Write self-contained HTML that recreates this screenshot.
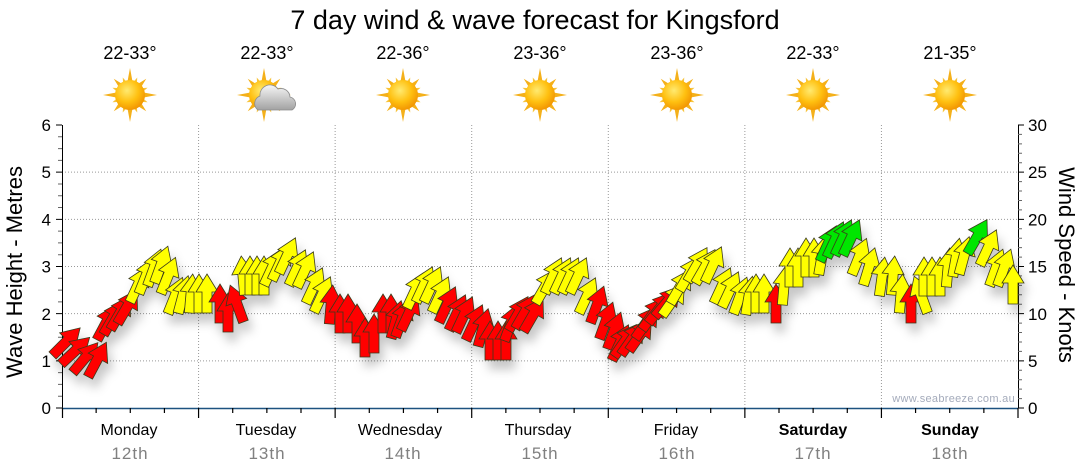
<!DOCTYPE html>
<html><head><meta charset="utf-8"><style>
html,body{margin:0;padding:0;background:#fff;}
svg{display:block;font-family:"Liberation Sans",sans-serif;}
.r{fill:#ff0000}.y{fill:#ffff00}.g{fill:#00e600}
</style></head><body>
<svg width="1080" height="475" viewBox="0 0 1080 475" xmlns="http://www.w3.org/2000/svg">
<defs>
<polygon id="a" points="0,-20 11,-2 5,-2 5,19 -5,19 -5,-2 -11,-2" stroke="#3a3a1a" stroke-width="0.8" stroke-linejoin="miter"/>
<radialGradient id="sg" cx="40%" cy="35%" r="70%"><stop offset="0" stop-color="#ffea70"/><stop offset="0.55" stop-color="#ffc010"/><stop offset="1" stop-color="#f09000"/></radialGradient>
<linearGradient id="cg" x1="0" y1="0" x2="0" y2="1"><stop offset="0" stop-color="#f6f6f6"/><stop offset="1" stop-color="#a2a2a2"/></linearGradient>
<g id="sun">
 <g fill="#f4b01a">
  <polygon points="-2.6,-13 0,-27 2.6,-13"/>
  <polygon points="-2.6,-13 0,-27 2.6,-13" transform="rotate(90)"/>
  <polygon points="-2.6,-13 0,-27 2.6,-13" transform="rotate(180)"/>
  <polygon points="-2.6,-13 0,-27 2.6,-13" transform="rotate(270)"/>
  <polygon points="-2.4,-13 0,-23 2.4,-13" transform="rotate(45)"/>
  <polygon points="-2.4,-13 0,-23 2.4,-13" transform="rotate(135)"/>
  <polygon points="-2.4,-13 0,-23 2.4,-13" transform="rotate(225)"/>
  <polygon points="-2.4,-13 0,-23 2.4,-13" transform="rotate(315)"/>
 </g>
 <g fill="#f7c33a">
  <polygon points="-2,-13 0,-19 2,-13" transform="rotate(22.5)"/>
  <polygon points="-2,-13 0,-19 2,-13" transform="rotate(67.5)"/>
  <polygon points="-2,-13 0,-19 2,-13" transform="rotate(112.5)"/>
  <polygon points="-2,-13 0,-19 2,-13" transform="rotate(157.5)"/>
  <polygon points="-2,-13 0,-19 2,-13" transform="rotate(202.5)"/>
  <polygon points="-2,-13 0,-19 2,-13" transform="rotate(247.5)"/>
  <polygon points="-2,-13 0,-19 2,-13" transform="rotate(292.5)"/>
  <polygon points="-2,-13 0,-19 2,-13" transform="rotate(337.5)"/>
 </g>
 <circle r="15" fill="url(#sg)"/>
</g>
<filter id="sh" x="-5%" y="-20%" width="115%" height="160%"><feDropShadow dx="4" dy="9" stdDeviation="5" flood-color="#000" flood-opacity="0.22"/></filter>
</defs>

<!-- title -->
<text x="535" y="29" font-size="27" text-anchor="middle" fill="#000">7 day wind &amp; wave forecast for Kingsford</text>

<!-- temps -->
<g font-size="18" text-anchor="middle" fill="#000">
<text x="130" y="59">22-33°</text>
<text x="267" y="59">22-33°</text>
<text x="403" y="59">22-36°</text>
<text x="540" y="59">23-36°</text>
<text x="677" y="59">23-36°</text>
<text x="813" y="59">22-33°</text>
<text x="950" y="59">21-35°</text>
</g>

<!-- weather icons -->
<use href="#sun" transform="translate(130,95)"/>
<use href="#sun" transform="translate(264,95)"/>
<path d="M -16 12 A 8 8 0 0 1 -14 -2 A 10 10 0 0 1 4 -9 A 9 9 0 0 1 16 -1 A 7 7 0 0 1 18 12 Z" transform="translate(274,98)" fill="url(#cg)" stroke="#8c8c8c" stroke-width="0.8"/>
<use href="#sun" transform="translate(403,95)"/>
<use href="#sun" transform="translate(540,95)"/>
<use href="#sun" transform="translate(677,95)"/>
<use href="#sun" transform="translate(813,95)"/>
<use href="#sun" transform="translate(950,95)"/>

<!-- grid -->
<g stroke="#999" stroke-width="1" stroke-dasharray="1,2" fill="none">
<path d="M62 360.83H1018M62 313.67H1018M62 266.5H1018M62 219.33H1018M62 172.17H1018"/>
<path d="M198.57 125V408M335.14 125V408M471.71 125V408M608.29 125V408M744.86 125V408M881.43 125V408"/>
</g>

<!-- left axis -->
<g stroke="#000" stroke-width="1" fill="none">
<path d="M62.5 125V408"/>
<path d="M56 408H62M56 360.83H62M56 313.67H62M56 266.5H62M56 219.33H62M56 172.17H62M56 125H62"/>
</g>
<path stroke="#666" stroke-width="1" fill="none" d="M58 396.21h4M58 384.42h4M58 372.63h4M58 349.04h4M58 337.25h4M58 325.46h4M58 301.88h4M58 290.08h4M58 278.29h4M58 254.71h4M58 242.92h4M58 231.13h4M58 207.54h4M58 195.75h4M58 183.96h4M58 160.38h4M58 148.58h4M58 136.79h4"/>
<g font-size="17" text-anchor="end" fill="#000">
<text x="51" y="414">0</text>
<text x="51" y="367">1</text>
<text x="51" y="320">2</text>
<text x="51" y="272.5">3</text>
<text x="51" y="225.5">4</text>
<text x="51" y="178">5</text>
<text x="51" y="131">6</text>
</g>

<!-- right axis -->
<g stroke="#000" stroke-width="1" fill="none">
<path d="M1018.5 125V408"/>
<path d="M1018 408h6M1018 360.83h6M1018 313.67h6M1018 266.5h6M1018 219.33h6M1018 172.17h6M1018 125h6"/>
</g>
<path stroke="#666" stroke-width="1" fill="none" d="M1018 398.57h4M1018 389.13h4M1018 379.7h4M1018 370.27h4M1018 351.4h4M1018 341.97h4M1018 332.53h4M1018 323.1h4M1018 304.23h4M1018 294.8h4M1018 285.37h4M1018 275.93h4M1018 257.07h4M1018 247.63h4M1018 238.2h4M1018 228.77h4M1018 209.9h4M1018 200.47h4M1018 191.03h4M1018 181.6h4M1018 162.73h4M1018 153.3h4M1018 143.87h4M1018 134.43h4"/>
<g font-size="17" fill="#000">
<text x="1028" y="414">0</text>
<text x="1028" y="367">5</text>
<text x="1028" y="320">10</text>
<text x="1028" y="272.5">15</text>
<text x="1028" y="225.5">20</text>
<text x="1028" y="178">25</text>
<text x="1028" y="131">30</text>
</g>

<!-- axis titles -->
<text transform="translate(22,272) rotate(-90)" font-size="22" text-anchor="middle" fill="#000">Wave Height - Metres</text>
<text transform="translate(1059,265) rotate(90)" font-size="22" text-anchor="middle" fill="#000">Wind Speed - Knots</text>

<!-- watermark -->
<text x="1015" y="402" font-size="11" text-anchor="end" fill="#a4abbb" letter-spacing="0.3">www.seabreeze.com.au</text>

<!-- arrows -->
<g filter="url(#sh)">
<use href="#a" class="r" transform="translate(66,342) rotate(45)"/>
<use href="#a" class="r" transform="translate(75,351) rotate(47)"/>
<use href="#a" class="r" transform="translate(85,358) rotate(40)"/>
<use href="#a" class="r" transform="translate(97,360) rotate(28)"/>
<use href="#a" class="r" transform="translate(106,323) rotate(28)"/>
<use href="#a" class="r" transform="translate(113,318) rotate(30)"/>
<use href="#a" class="r" transform="translate(120,313) rotate(30)"/>
<use href="#a" class="r" transform="translate(127,307) rotate(30)"/>
<use href="#a" class="y" transform="translate(138,285) rotate(25)"/>
<use href="#a" class="y" transform="translate(146,276) rotate(22)"/>
<use href="#a" class="y" transform="translate(154,268) rotate(20)"/>
<use href="#a" class="y" transform="translate(161,265) rotate(20)"/>
<use href="#a" class="y" transform="translate(168,276) rotate(22)"/>
<use href="#a" class="y" transform="translate(175,296) rotate(22)"/>
<use href="#a" class="y" transform="translate(183,295) rotate(15)"/>
<use href="#a" class="y" transform="translate(191,294) rotate(5)"/>
<use href="#a" class="y" transform="translate(199,294) rotate(0)"/>
<use href="#a" class="y" transform="translate(207,294) rotate(0)"/>
<use href="#a" class="r" transform="translate(220,304) rotate(0)"/>
<use href="#a" class="r" transform="translate(228,313) rotate(0)"/>
<use href="#a" class="r" transform="translate(237,304) rotate(-20)"/>
<use href="#a" class="y" transform="translate(243,276) rotate(-5)"/>
<use href="#a" class="y" transform="translate(250,276) rotate(0)"/>
<use href="#a" class="y" transform="translate(257,276) rotate(0)"/>
<use href="#a" class="y" transform="translate(264,276) rotate(0)"/>
<use href="#a" class="y" transform="translate(272,268) rotate(25)"/>
<use href="#a" class="y" transform="translate(280,263) rotate(25)"/>
<use href="#a" class="y" transform="translate(287,256) rotate(25)"/>
<use href="#a" class="y" transform="translate(297,268) rotate(25)"/>
<use href="#a" class="y" transform="translate(305,270) rotate(25)"/>
<use href="#a" class="y" transform="translate(314,286) rotate(25)"/>
<use href="#a" class="y" transform="translate(322,295) rotate(25)"/>
<use href="#a" class="r" transform="translate(331,305) rotate(5)"/>
<use href="#a" class="r" transform="translate(340,314) rotate(0)"/>
<use href="#a" class="r" transform="translate(348,314) rotate(0)"/>
<use href="#a" class="r" transform="translate(357,324) rotate(0)"/>
<use href="#a" class="r" transform="translate(365,338) rotate(0)"/>
<use href="#a" class="r" transform="translate(374,334) rotate(0)"/>
<use href="#a" class="r" transform="translate(383,314) rotate(0)"/>
<use href="#a" class="r" transform="translate(391,314) rotate(0)"/>
<use href="#a" class="r" transform="translate(396,320) rotate(15)"/>
<use href="#a" class="r" transform="translate(402,319) rotate(20)"/>
<use href="#a" class="r" transform="translate(409,313) rotate(25)"/>
<use href="#a" class="y" transform="translate(415,291) rotate(25)"/>
<use href="#a" class="y" transform="translate(424,285) rotate(25)"/>
<use href="#a" class="y" transform="translate(432,285) rotate(25)"/>
<use href="#a" class="y" transform="translate(440,295) rotate(25)"/>
<use href="#a" class="r" transform="translate(447,305) rotate(25)"/>
<use href="#a" class="r" transform="translate(457,313) rotate(25)"/>
<use href="#a" class="r" transform="translate(464,315) rotate(25)"/>
<use href="#a" class="r" transform="translate(474,323) rotate(25)"/>
<use href="#a" class="r" transform="translate(483,328) rotate(15)"/>
<use href="#a" class="r" transform="translate(490,341) rotate(0)"/>
<use href="#a" class="r" transform="translate(498,341) rotate(0)"/>
<use href="#a" class="r" transform="translate(506,341) rotate(0)"/>
<use href="#a" class="r" transform="translate(511,323) rotate(20)"/>
<use href="#a" class="r" transform="translate(518,314) rotate(30)"/>
<use href="#a" class="r" transform="translate(525,312) rotate(30)"/>
<use href="#a" class="r" transform="translate(533,315) rotate(30)"/>
<use href="#a" class="y" transform="translate(545,287) rotate(30)"/>
<use href="#a" class="y" transform="translate(553,276) rotate(25)"/>
<use href="#a" class="y" transform="translate(562,276) rotate(25)"/>
<use href="#a" class="y" transform="translate(570,276) rotate(25)"/>
<use href="#a" class="y" transform="translate(578,276) rotate(25)"/>
<use href="#a" class="y" transform="translate(587,296) rotate(25)"/>
<use href="#a" class="r" transform="translate(597,305) rotate(20)"/>
<use href="#a" class="r" transform="translate(606,321) rotate(20)"/>
<use href="#a" class="r" transform="translate(614,331) rotate(20)"/>
<use href="#a" class="r" transform="translate(620,343) rotate(25)"/>
<use href="#a" class="r" transform="translate(625,341) rotate(35)"/>
<use href="#a" class="r" transform="translate(632,339) rotate(35)"/>
<use href="#a" class="r" transform="translate(640,335) rotate(35)"/>
<use href="#a" class="r" transform="translate(646,323) rotate(35)"/>
<use href="#a" class="r" transform="translate(653,314) rotate(35)"/>
<use href="#a" class="r" transform="translate(660,308) rotate(38)"/>
<use href="#a" class="r" transform="translate(667,302) rotate(40)"/>
<use href="#a" class="y" transform="translate(673,300) rotate(35)"/>
<use href="#a" class="y" transform="translate(680,287) rotate(30)"/>
<use href="#a" class="y" transform="translate(689,274) rotate(30)"/>
<use href="#a" class="y" transform="translate(697,265) rotate(30)"/>
<use href="#a" class="y" transform="translate(705,267) rotate(30)"/>
<use href="#a" class="y" transform="translate(713,265) rotate(25)"/>
<use href="#a" class="y" transform="translate(722,286) rotate(25)"/>
<use href="#a" class="y" transform="translate(730,290) rotate(25)"/>
<use href="#a" class="y" transform="translate(740,296) rotate(20)"/>
<use href="#a" class="y" transform="translate(749,296) rotate(10)"/>
<use href="#a" class="y" transform="translate(756,294) rotate(0)"/>
<use href="#a" class="y" transform="translate(764,294) rotate(0)"/>
<use href="#a" class="r" transform="translate(776,304) rotate(0)"/>
<use href="#a" class="y" transform="translate(784,286) rotate(5)"/>
<use href="#a" class="y" transform="translate(790,268) rotate(0)"/>
<use href="#a" class="y" transform="translate(798,268) rotate(0)"/>
<use href="#a" class="y" transform="translate(806,258) rotate(0)"/>
<use href="#a" class="y" transform="translate(814,258) rotate(0)"/>
<use href="#a" class="y" transform="translate(822,256) rotate(10)"/>
<use href="#a" class="g" transform="translate(828,244) rotate(25)"/>
<use href="#a" class="g" transform="translate(835,240) rotate(25)"/>
<use href="#a" class="g" transform="translate(843,238) rotate(25)"/>
<use href="#a" class="g" transform="translate(851,238) rotate(25)"/>
<use href="#a" class="y" transform="translate(859,257) rotate(22)"/>
<use href="#a" class="y" transform="translate(869,267) rotate(17)"/>
<use href="#a" class="y" transform="translate(882,277) rotate(8)"/>
<use href="#a" class="y" transform="translate(893,276) rotate(5)"/>
<use href="#a" class="y" transform="translate(901,294) rotate(5)"/>
<use href="#a" class="r" transform="translate(911,304) rotate(0)"/>
<use href="#a" class="y" transform="translate(921,295) rotate(-20)"/>
<use href="#a" class="y" transform="translate(924,277) rotate(0)"/>
<use href="#a" class="y" transform="translate(932,277) rotate(0)"/>
<use href="#a" class="y" transform="translate(940,277) rotate(0)"/>
<use href="#a" class="y" transform="translate(948,268) rotate(5)"/>
<use href="#a" class="y" transform="translate(956,258) rotate(10)"/>
<use href="#a" class="y" transform="translate(964,256) rotate(15)"/>
<use href="#a" class="g" transform="translate(977,237) rotate(30)"/>
<use href="#a" class="y" transform="translate(988,248) rotate(25)"/>
<use href="#a" class="y" transform="translate(996,268) rotate(20)"/>
<use href="#a" class="y" transform="translate(1004,268) rotate(20)"/>
<use href="#a" class="y" transform="translate(1013,285) rotate(0)"/>
</g>

<!-- bottom axis -->
<path d="M62 408.5H1018" stroke="#1d5280" stroke-width="1.6" fill="none"/>
<g stroke="#000" stroke-width="1.2" fill="none">
<path d="M62.5 408v10M198.57 408v10M335.14 408v10M471.71 408v10M608.29 408v10M744.86 408v10M881.43 408v10M1018 408v10"/>
<path d="M96.14 408v5M130.29 408v5M164.43 408v5M232.71 408v5M266.86 408v5M301 408v5M369.29 408v5M403.43 408v5M437.57 408v5M505.86 408v5M540 408v5M574.14 408v5M642.43 408v5M676.57 408v5M710.71 408v5M779 408v5M813.14 408v5M847.29 408v5M915.57 408v5M949.71 408v5M983.86 408v5"/>
</g>

<!-- day labels -->
<g font-size="16" text-anchor="middle" fill="#000">
<text x="129" y="435">Monday</text>
<text x="266" y="435">Tuesday</text>
<text x="400" y="435">Wednesday</text>
<text x="538" y="435">Thursday</text>
<text x="676" y="435">Friday</text>
<text x="813" y="435" font-weight="bold">Saturday</text>
<text x="950" y="435" font-weight="bold">Sunday</text>
</g>
<g font-size="17" text-anchor="middle" fill="#808080" letter-spacing="1">
<text x="130" y="459">12th</text>
<text x="267" y="459">13th</text>
<text x="403" y="459">14th</text>
<text x="540" y="459">15th</text>
<text x="677" y="459">16th</text>
<text x="813" y="459">17th</text>
<text x="950" y="459">18th</text>
</g>
</svg>
</body></html>
